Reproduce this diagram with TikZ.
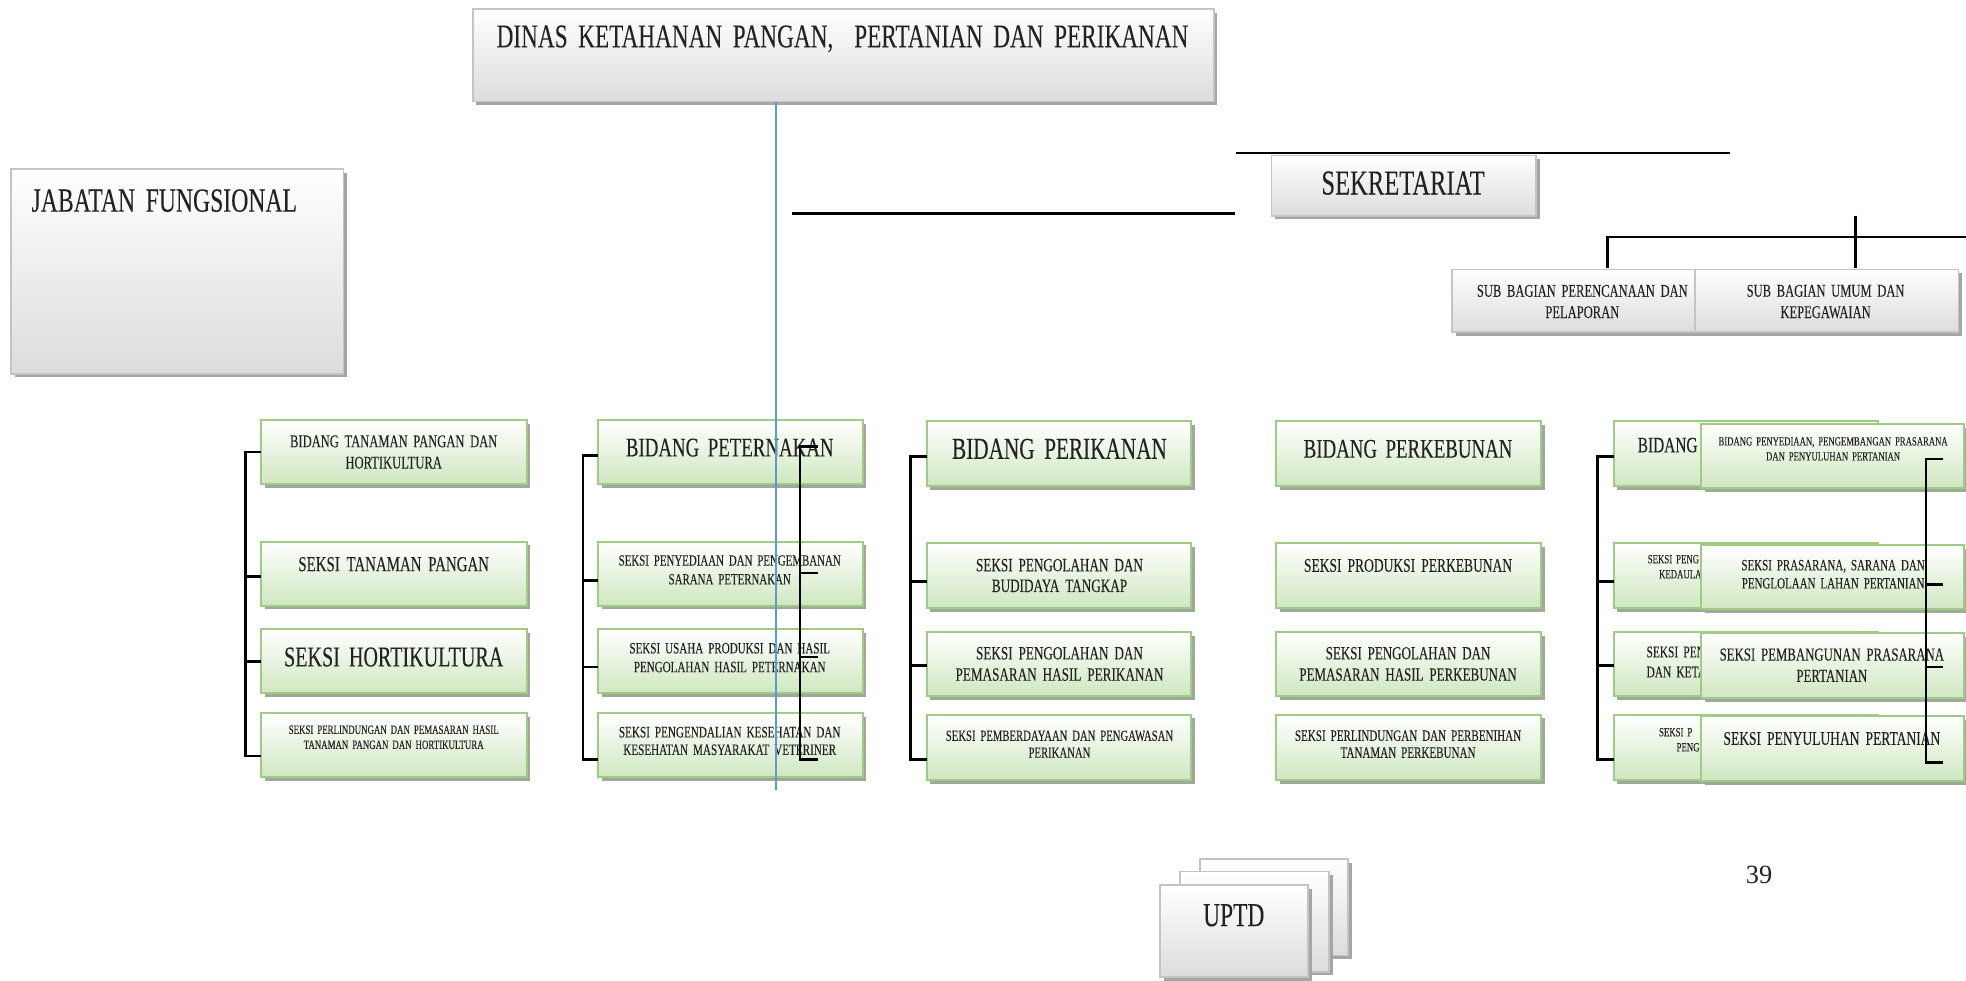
\documentclass[tikz,border=0pt]{standalone}
\usepackage{fontspec}
\newfontfamily\cf[FakeStretch=0.7,WordSpace={1.8},FakeBold=0.1]{Liberation Serif}
\newfontfamily\nf{Liberation Serif}
\newcommand{\tfs}[2]{\cf\fontsize{#1}{#2}\selectfont}
\definecolor{grayline}{HTML}{C4C4C4}
\definecolor{grayfill}{HTML}{DCDCDC}
\definecolor{greenline}{HTML}{9FCC85}
\definecolor{greenfill}{HTML}{CFE7C0}
\definecolor{shadowgray}{HTML}{A5A5A5}
\definecolor{shadowgreen}{HTML}{A0A89C}
\definecolor{textc}{HTML}{222222}
\definecolor{bluel}{HTML}{5B9BD5}
\tikzset{
  boxbase/.style={inner sep=0pt, outer sep=0pt, line width=1.4pt},
  graybox/.style={boxbase, draw=grayline, top color=white, bottom color=grayfill},
  greenbox/.style={boxbase, line width=1.6pt, draw=greenline, top color=white, bottom color=greenfill},
  txt/.style={inner sep=0pt, text=textc, align=center},
  conn/.style={line width=2.2pt, black},
}
% shadow colour, style, name, x1, y1, x2, y2
\newcommand{\bxs}[7]{%
  \fill[#1] (#4+3,#5+3) rectangle (#6+3,#7+3);
  \node[#2, minimum width={(#6-#4)*1pt}, minimum height={(#7-#5)*1pt}] (#3) at ({(#4+#6)/2},{(#5+#7)/2}) {};
}
\newcommand{\bx}[6]{\bxs{shadowgray}{#1}{#2}{#3}{#4}{#5}{#6}}
\newcommand{\gx}[5]{\bxs{shadowgreen}{greenbox}{#1}{#2}{#3}{#4}{#5}}
\begin{document}
\begin{tikzpicture}[x=1pt,y=-1pt]
\fill[white] (0,0) rectangle (1568,782);
\useasboundingbox (0,0) rectangle (1568,782);

% ---------- top ----------
\bx{graybox}{dinas}{377}{7}{968}{81}
\node[txt, font=\tfs{26.5}{30}] (tdinas) at (672,31) {DINAS KETAHANAN PANGAN,\ \ PERTANIAN DAN PERIKANAN};

\bx{graybox}{jab}{9}{135}{274}{298}
\node[txt, anchor=west, font=\tfs{27}{30}] (tjab) at (25,160) {JABATAN FUNGSIONAL};

\coordinate (h1a) at (632,170); \coordinate (h1b) at (985,170);
\coordinate (h2a) at (986,122); \coordinate (h2b) at (1380,122);
\draw[conn] (h1a) -- (h1b);
\draw[conn] (h2a) -- (h2b);

\bx{graybox}{sek}{1014}{124}{1225}{172}
\node[txt, font=\tfs{28}{30}] (tsek) at (1119,146) {SEKRETARIAT};

% sub bagian
\bx{graybox}{s1}{1158}{215}{1360}{265}
\bx{graybox}{s2}{1352}{215}{1562}{265}
\node[txt, font=\tfs{14.3}{17}] (ts1) at (1262,240.5) {SUB BAGIAN PERENCANAAN DAN\\PELAPORAN};
\node[txt, font=\tfs{14.3}{17}] (ts2) at (1456,240.5) {SUB BAGIAN UMUM DAN\\KEPEGAWAIAN};
\coordinate (sbr) at (1568,189);
\draw[conn] (1282,214) -- (1282,189) -- (sbr);
\draw[conn] (1480,172) -- (1480,214);

% ---------- column 1 ----------
\gx{b11}{208}{335}{420}{386}
\gx{b12}{208}{432}{420}{483}
\gx{b13}{208}{502}{420}{553}
\gx{b14}{208}{569}{420}{620}
\node[txt, font=\tfs{14.3}{17}] (t11) at (314,360.5) {BIDANG TANAMAN PANGAN DAN\\HORTIKULTURA};
\node[txt, font=\tfs{17}{20}] (t12) at (314,450) {SEKSI TANAMAN PANGAN};
\node[txt, font=\tfs{22.9}{26}] (t13) at (314,524) {SEKSI HORTIKULTURA};
\node[txt, font=\tfs{10.1}{12}] (t14) at (314,588) {SEKSI PERLINDUNGAN DAN PEMASARAN HASIL\\TANAMAN PANGAN DAN HORTIKULTURA};
\draw[conn] (b11.west) -- ++(-12,0) |- ([yshift=-8.5pt]b14.west);
\draw[conn] ([yshift=-2.5pt]b12.west) -- ++(-12,0);
\draw[conn] (b13.west) -- ++(-12,0);

% ---------- column 2 ----------
\gx{b21}{477}{335}{688}{386}
\gx{b22}{477}{432}{688}{483}
\gx{b23}{477}{502}{688}{553}
\gx{b24}{477}{569}{688}{620}
\node[txt, font=\tfs{21.5}{26}] (t21) at (582,357) {BIDANG PETERNAKAN};
\node[txt, font=\tfs{12.4}{15}] (t22) at (582,454.5) {SEKSI PENYEDIAAN DAN PENGEMBANAN\\SARANA PETERNAKAN};
\node[txt, font=\tfs{12.6}{15}] (t23) at (582,524.5) {SEKSI USAHA PRODUKSI DAN HASIL\\PENGOLAHAN HASIL PETERNAKAN};
\node[txt, font=\tfs{12.7}{14}] (t24) at (582,591) {SEKSI PENGENDALIAN KESEHATAN DAN\\KESEHATAN MASYARAKAT VETERINER};
\draw[conn] ([yshift=-2.5pt]b21.west) -- ++(-12,0) |- ([yshift=-11.5pt]b24.west);
\draw[conn] ([yshift=-5.5pt]b22.west) -- ++(-12,0);
\draw[conn] ([yshift=-4.5pt]b23.west) -- ++(-12,0);

% ---------- column 3 ----------
\gx{b31}{739}{336}{950}{388}
\gx{b32}{739}{433}{950}{485}
\gx{b33}{739}{504}{950}{555}
\gx{b34}{739}{570}{950}{622}
\node[txt, font=\tfs{24.2}{28}] (t31) at (845,358) {BIDANG PERIKANAN};
\node[txt, font=\tfs{15}{16.5}] (t32) at (845,459) {SEKSI PENGOLAHAN DAN\\BUDIDAYA TANGKAP};
\node[txt, font=\tfs{15}{17}] (t33) at (845,529.5) {SEKSI PENGOLAHAN DAN\\PEMASARAN HASIL PERIKANAN};
\node[txt, font=\tfs{12.2}{13.5}] (t34) at (845,593.5) {SEKSI PEMBERDAYAAN DAN PENGAWASAN\\PERIKANAN};
\draw[conn] ([yshift=-2pt]b31.west) -- ++(-13,0) |- ([yshift=-10pt]b34.west);
\draw[conn] ([yshift=-5pt]b32.west) -- ++(-13,0);
\draw[conn] ([yshift=-1.5pt]b33.west) -- ++(-13,0);

% ---------- column 4 ----------
\gx{b41}{1018}{336}{1229}{388}
\gx{b42}{1018}{433}{1229}{485}
\gx{b43}{1018}{504}{1229}{555}
\gx{b44}{1018}{570}{1229}{622}
\node[txt, font=\tfs{21.5}{26}] (t41) at (1123,358) {BIDANG PERKEBUNAN};
\node[txt, font=\tfs{15.4}{17}] (t42) at (1123,451) {SEKSI PRODUKSI PERKEBUNAN};
\node[txt, font=\tfs{14.8}{17}] (t43) at (1123,529.5) {SEKSI PENGOLAHAN DAN\\PEMASARAN HASIL PERKEBUNAN};
\node[txt, font=\tfs{12.6}{13.5}] (t44) at (1123,593.5) {SEKSI PERLINDUNGAN DAN PERBENIHAN\\TANAMAN PERKEBUNAN};

% ---------- column 5 (back) ----------
\gx{c51}{1287}{336}{1498}{388}
\gx{c52}{1287}{433}{1498}{485}
\gx{c53}{1287}{504}{1498}{555}
\gx{c54}{1287}{570}{1498}{622}
\node[txt, anchor=west, font=\tfs{17.5}{21}] (u51) at (1306,355) {BIDANG};
\node[txt, anchor=west, font=\tfs{10}{12}] (u52a) at (1314,446) {SEKSI PENG};
\node[txt, anchor=west, font=\tfs{10}{12}] (u52b) at (1323,458) {KEDAULAT};
\node[txt, anchor=west, font=\tfs{13}{15}] (u53a) at (1313,520) {SEKSI PEN};
\node[txt, anchor=west, font=\tfs{13}{15}] (u53b) at (1313,536) {DAN KETA};
\node[txt, anchor=west, font=\tfs{10}{12}] (u54a) at (1323,584) {SEKSI P};
\node[txt, anchor=west, font=\tfs{10}{12}] (u54b) at (1337,596) {PENG};
\draw[conn] ([yshift=-2pt]c51.west) -- ++(-13,0) |- ([yshift=-10pt]c54.west);
\draw[conn] ([yshift=-5pt]c52.west) -- ++(-13,0);
\draw[conn] ([yshift=-1.5pt]c53.west) -- ++(-13,0);

% ---------- column 5 (front) ----------
\gx{f1}{1357}{338}{1566}{389}
\gx{f2}{1357}{435}{1566}{486}
\gx{f3}{1357}{505}{1566}{557}
\gx{f4}{1357}{571}{1566}{623}
\node[txt, font=\tfs{9.9}{12}] (tf1) at (1462,358) {BIDANG PENYEDIAAN, PENGEMBANGAN PRASARANA\\DAN PENYULUHAN PERTANIAN};
\node[txt, font=\tfs{12.5}{14.5}] (tf2) at (1462,458) {SEKSI PRASARANA, SARANA DAN\\PENGLOLAAN LAHAN PERTANIAN};
\node[txt, font=\tfs{14.6}{17}] (tf3) at (1461,530.5) {SEKSI PEMBANGUNAN PRASARANA\\PERTANIAN};
\node[txt, font=\tfs{15.4}{17}] (tf4) at (1461,589) {SEKSI PENYULUHAN PERTANIAN};

% right bracket col 5
\draw[conn] (1550,366) -- (1536,366) -- (1536,608) -- (1550,608);
\draw[conn] (1536,466) -- (1550,466);
\draw[conn] (1536,532) -- (1550,532);

% right bracket col 2
\draw[conn] (652,356) -- (638,356) -- (638,606) -- (652,606);
\draw[conn] (638,457) -- (652,457);
\draw[conn] (638,524) -- (652,524);

% blue line
\draw[bluel, line width=1.2pt] (dinas.south -| 619,0) -- (619,630);

% ---------- UPTD ----------
\bx{graybox}{u3}{957}{685}{1075}{762}
\bx{graybox}{u2}{941}{695}{1060}{775}
\bx{graybox}{u1}{925}{706}{1043}{779}
\node[txt, font=\tfs{26.7}{30}] (tuptd) at (984,730) {UPTD};

\node[inner sep=0pt, text=textc, font=\nf\fontsize{21}{25}\selectfont] (pg) at (1403,698) {39};
\end{tikzpicture}
\end{document}
